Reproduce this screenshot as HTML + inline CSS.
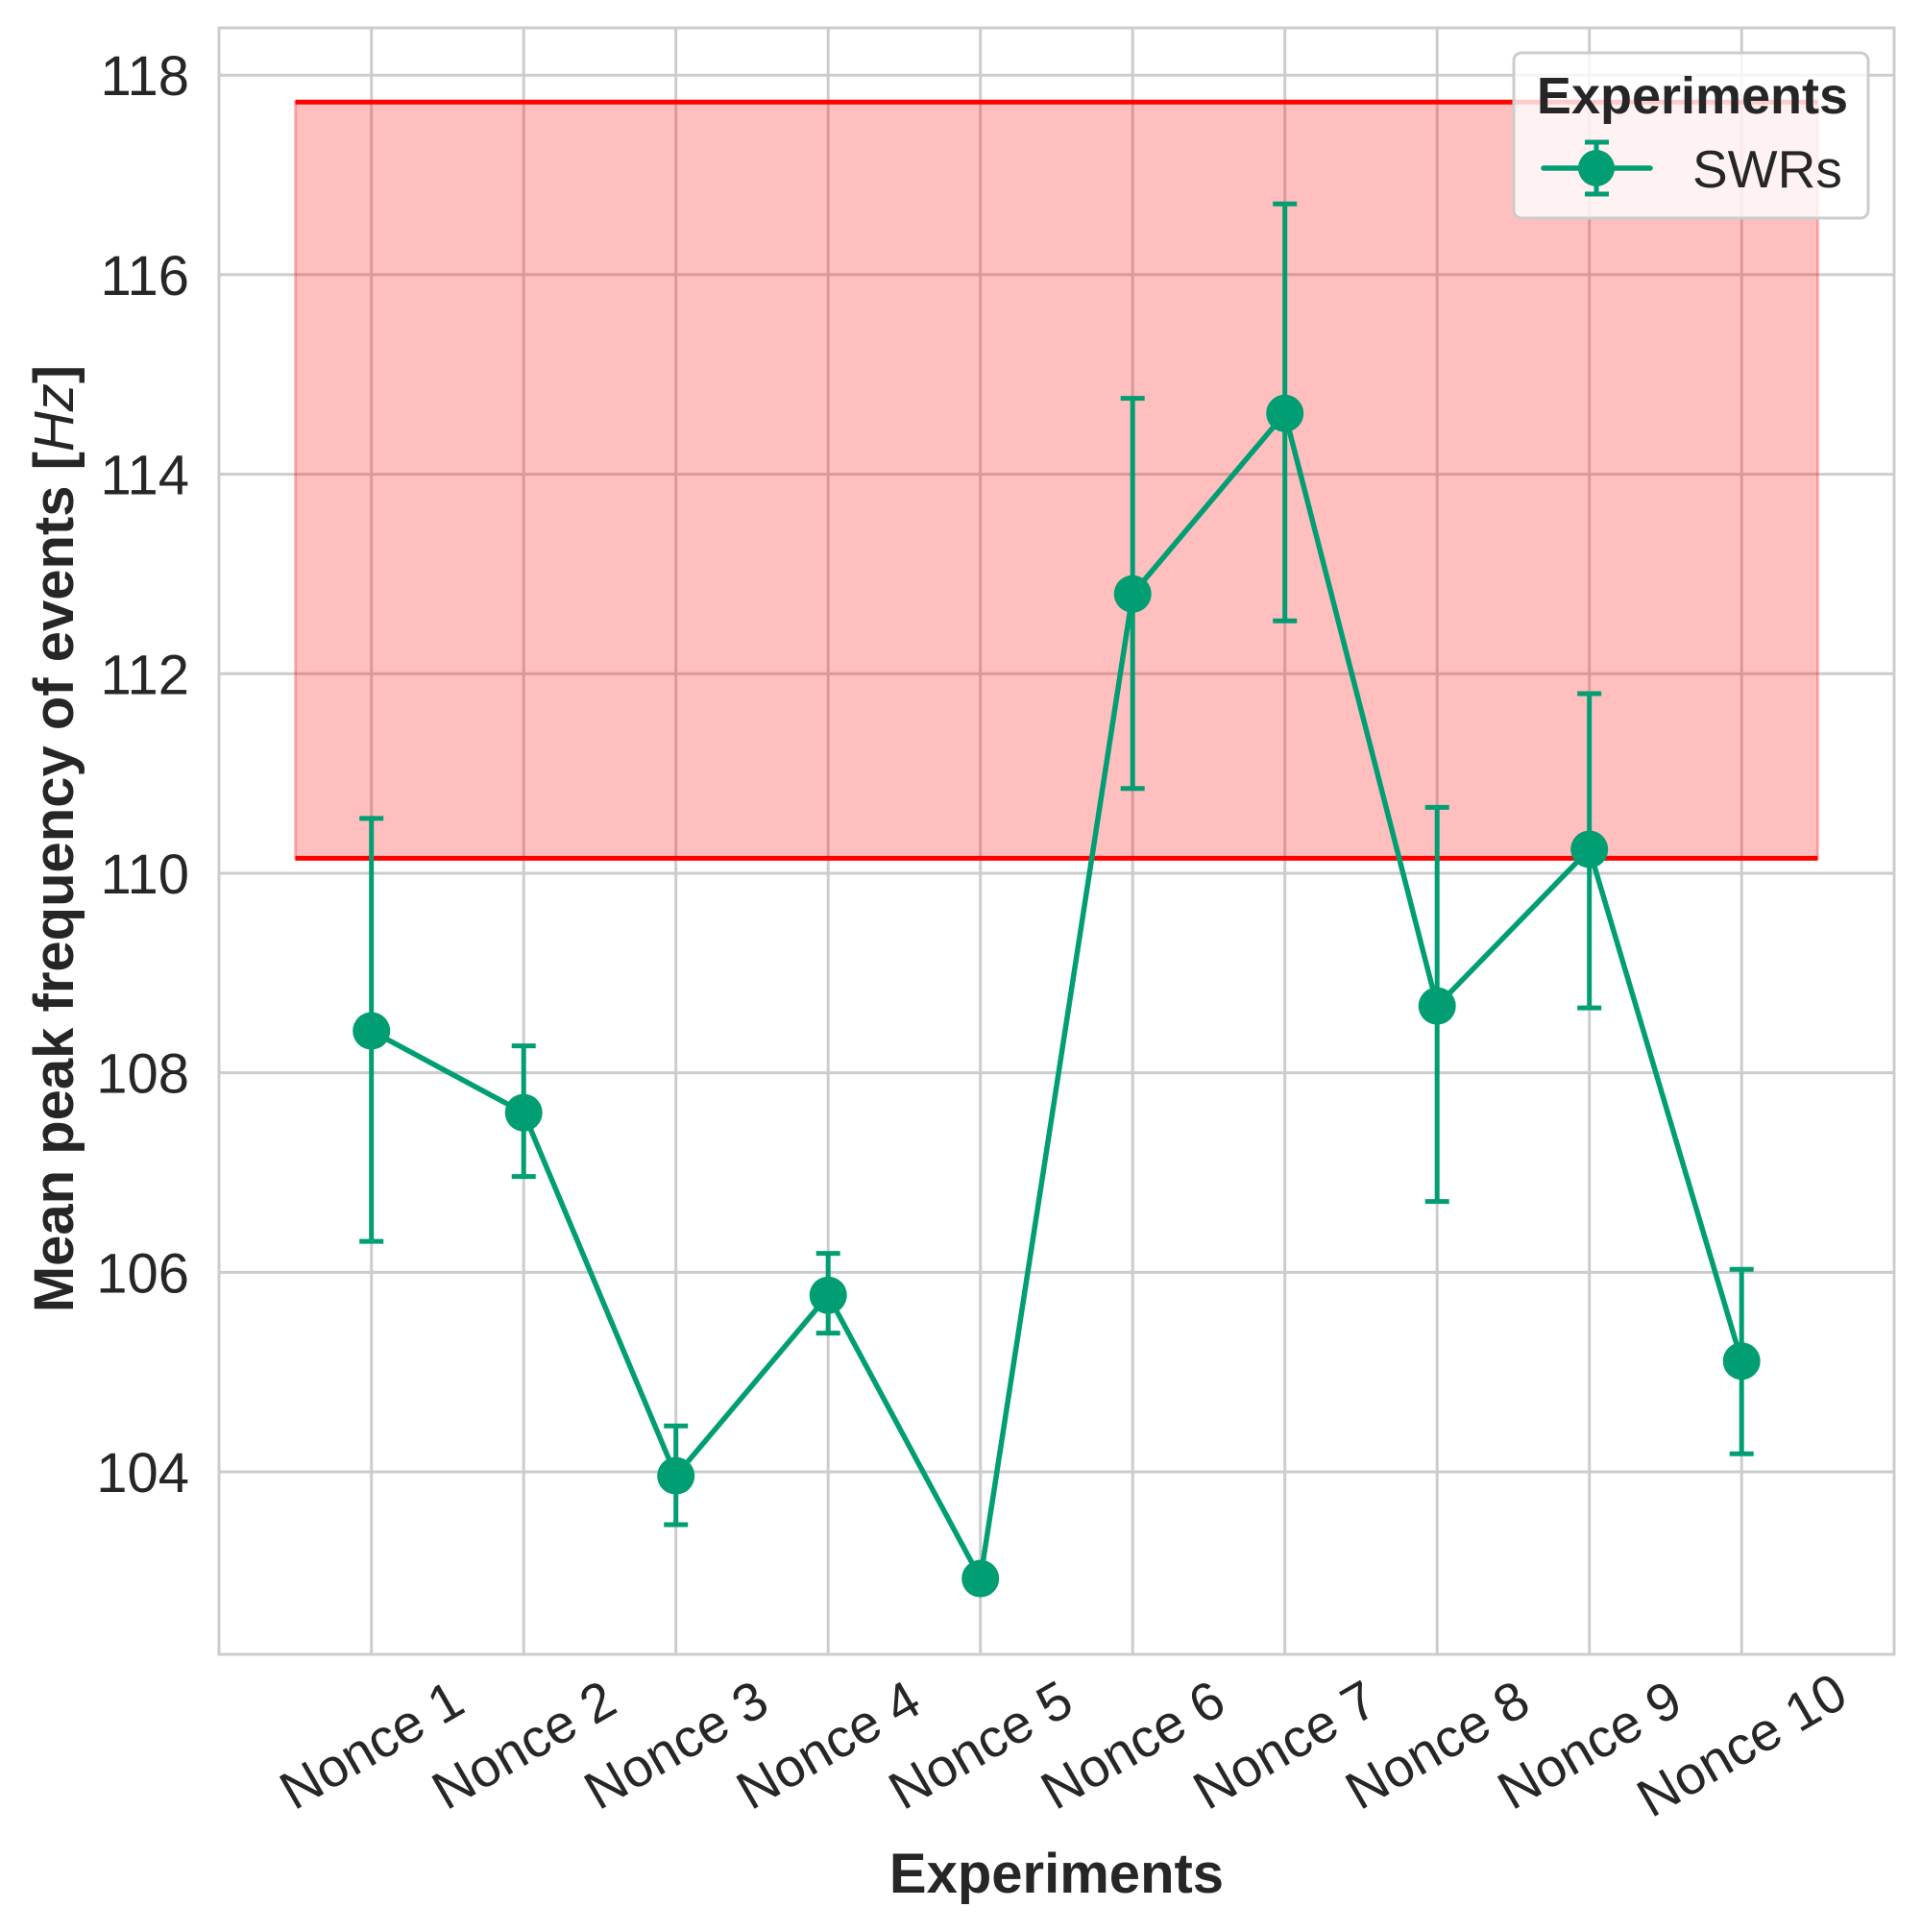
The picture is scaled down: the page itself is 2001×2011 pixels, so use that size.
<!DOCTYPE html>
<html><head><meta charset="utf-8"><style>
html,body{margin:0;padding:0;background:#fff;}
svg{display:block;font-family:"Liberation Sans",Arial,sans-serif;}
</style></head><body>
<svg id="chart" width="2001" height="2011" viewBox="0 0 2001 2011" xmlns="http://www.w3.org/2000/svg">
<rect x="0" y="0" width="2001" height="2011" fill="#fff"/>
<g id="grid"></g>
<g id="band"></g>
<g id="series"></g>
<rect x="228" y="29" width="1744" height="1693" fill="none" stroke="#cccccc" stroke-width="3"/>
<g id="yticks"></g>
<g id="xticks"></g>
<text x="0" y="0" transform="translate(76,873) rotate(-90)" text-anchor="middle" font-size="58" font-weight="bold" fill="#262626">Mean peak frequency of events [<tspan font-style="italic" font-weight="normal">Hz</tspan>]</text>
<text x="1100" y="1970" text-anchor="middle" font-size="58" font-weight="bold" fill="#262626">Experiments</text>
<g>
<rect x="1576" y="55" width="369" height="172" rx="8" fill="#ffffff" fill-opacity="0.8" stroke="#cccccc" stroke-width="3"/>
<text x="1762" y="118" text-anchor="middle" font-size="54" font-weight="bold" fill="#262626">Experiments</text>
<g>
<line x1="1607" y1="175" x2="1718" y2="175" stroke="#029e73" stroke-width="5.5" stroke-linecap="round"/>
<line x1="1662" y1="148" x2="1662" y2="202" stroke="#029e73" stroke-width="5"/>
<line x1="1650" y1="148" x2="1675" y2="148" stroke="#029e73" stroke-width="5"/>
<line x1="1650" y1="202" x2="1675" y2="202" stroke="#029e73" stroke-width="5"/>
<circle cx="1662" cy="175" r="19" fill="#029e73"/>
<text x="1762" y="195" font-size="55" fill="#262626">SWRs</text>
</g>
</g>
</svg>
<script>
const categories = ["Nonce 1","Nonce 2","Nonce 3","Nonce 4","Nonce 5","Nonce 6","Nonce 7","Nonce 8","Nonce 9","Nonce 10"];
const means = [108.42,107.60,103.96,105.77,102.93,112.80,114.61,108.67,110.24,105.11];
const errUpper = [110.55,108.27,104.46,106.19,102.93,114.76,116.71,110.66,111.80,106.03];
const errLower = [106.31,106.96,103.47,105.39,102.93,110.85,112.53,106.71,108.65,104.18];
const yTicks = [104,106,108,110,112,114,116,118];
const bandLow = 110.15;
const bandHigh = 117.73;

const NS="http://www.w3.org/2000/svg";
function X(i){return 386.7+158.5*i;}
function Y(v){return 1532-(v-104)*103.84;}
function mk(tag,attrs,parent){const e=document.createElementNS(NS,tag);for(const k in attrs)e.setAttribute(k,attrs[k]);parent.appendChild(e);return e;}
const grid=document.getElementById('grid');
yTicks.forEach(t=>{
  const l=mk('line',{x1:228,x2:1972,y1:Y(t),y2:Y(t),stroke:'#cccccc','stroke-width':3},grid);
  
  
  const tx=mk('text',{x:197,y:Y(t)+21,'text-anchor':'end','font-size':58,fill:'#262626'},document.getElementById('yticks'));
  tx.textContent=t;
  
  
});
categories.forEach((c,i)=>{
  const l=mk('line',{x1:X(i),x2:X(i),y1:29,y2:1722,stroke:'#cccccc','stroke-width':3},grid);
  
  
  const tx=mk('text',{x:0,y:0,transform:`translate(${X(i)},1816) rotate(-30)`,'text-anchor':'middle','dominant-baseline':'central','font-size':56,fill:'#262626'},document.getElementById('xticks'));
  tx.textContent=c;
  
  
});
const band=document.getElementById('band');
const bx1=X(-0.5),bx2=X(categories.length-0.5);
const br=mk('rect',{x:bx1,y:Y(bandHigh),width:bx2-bx1,height:Y(bandLow)-Y(bandHigh),fill:'#ff0000','fill-opacity':0.25,stroke:'#ff0000','stroke-opacity':0.25,'stroke-width':3},band);


[bandHigh,bandLow].forEach(v=>{
  const l=mk('line',{x1:bx1,x2:bx2,y1:Y(v),y2:Y(v),stroke:'#ff0000','stroke-width':5},band);
  
  
});
const s=document.getElementById('series');
categories.forEach((c,i)=>{
  const g=mk('g',{},s);
  
  
  mk('line',{x1:X(i),x2:X(i),y1:Y(errUpper[i]),y2:Y(errLower[i]),stroke:'#029e73','stroke-width':5},g);
  mk('line',{x1:X(i)-12.5,x2:X(i)+12.5,y1:Y(errUpper[i]),y2:Y(errUpper[i]),stroke:'#029e73','stroke-width':5},g);
  mk('line',{x1:X(i)-12.5,x2:X(i)+12.5,y1:Y(errLower[i]),y2:Y(errLower[i]),stroke:'#029e73','stroke-width':5},g);
});
const pl=mk('polyline',{points:means.map((v,i)=>X(i)+','+Y(v)).join(' '),fill:'none',stroke:'#029e73','stroke-width':5.5,'stroke-linejoin':'round'},s);


means.forEach((v,i)=>{
  const c=mk('circle',{cx:X(i),cy:Y(v),r:19.5,fill:'#029e73'},s);
  
  
});
</script>
</body></html>
